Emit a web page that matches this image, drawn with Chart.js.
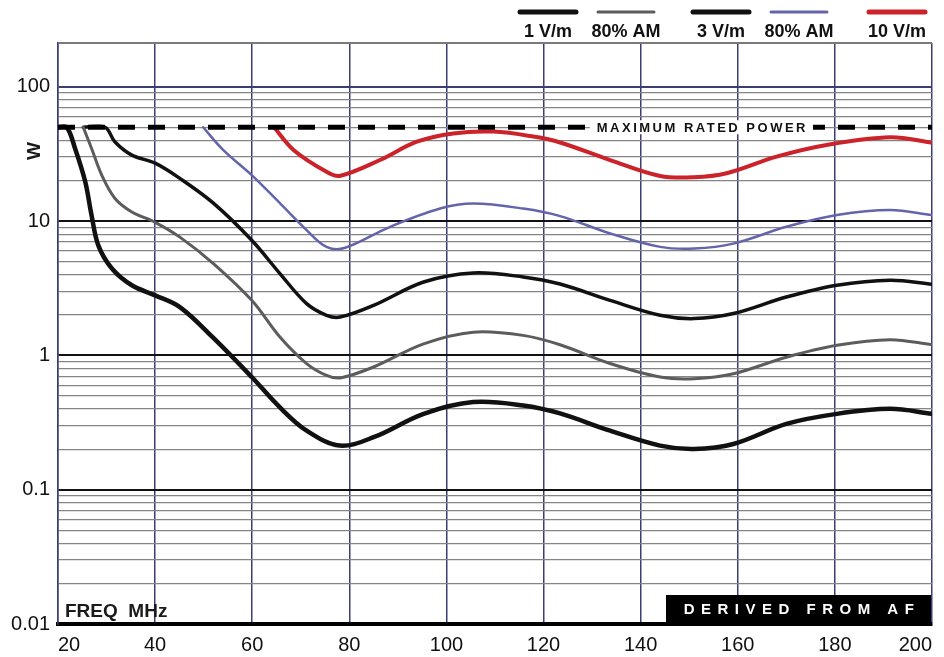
<!DOCTYPE html>
<html>
<head>
<meta charset="utf-8">
<script src="https://cdn.jsdelivr.net/npm/chart.js@4.4.1/dist/chart.umd.min.js"></script>
<style>
  html, body { margin: 0; padding: 0; background: #fff; }
  #wrap { width: 944px; height: 657px; }
</style>
</head>
<body>
<div id="wrap"><canvas id="powerChart" width="944" height="657"></canvas></div>
<script>
// forward power needed for each field level (MHz, W)
const cw1Freq  = [20, 21.8, 23.5, 25.6, 26.9, 28.3, 31.1, 35.2, 40, 45.1, 52, 59.9, 65.7, 71.2, 78, 85, 95.3, 105.5, 115.8, 123.4, 133.7, 144, 151, 159.1, 170, 180.4, 191.4, 200];
const cw1Power = [50, 50, 34.9, 19.7, 11.1, 6.6, 4.44, 3.33, 2.8, 2.29, 1.35, 0.69, 0.41, 0.275, 0.213, 0.246, 0.367, 0.449, 0.424, 0.37, 0.275, 0.213, 0.201, 0.219, 0.309, 0.367, 0.40, 0.367];

const am1Freq  = [25.2, 26.9, 29, 31.7, 35.2, 40, 45.1, 52, 59.9, 65.7, 71.2, 75.3, 78.1, 85, 95.3, 105.5, 115.8, 123.4, 133.7, 144, 151, 159.1, 170, 180.4, 191.4, 200];
const am1Power = [50, 34.9, 22, 14.8, 11.7, 9.8, 7.6, 4.83, 2.57, 1.37, 0.87, 0.71, 0.68, 0.82, 1.22, 1.49, 1.41, 1.2, 0.87, 0.69, 0.67, 0.73, 0.97, 1.19, 1.31, 1.2];

const cw3Freq  = [25.2, 29.7, 31.7, 35.2, 40, 45.1, 52, 59.9, 65.7, 71.2, 75.3, 78.1, 85, 95.3, 105.5, 115.8, 123.4, 133.7, 144, 151, 159.1, 170, 180.4, 191.4, 200];
const cw3Power = [50, 50, 39, 31, 27, 20.8, 13.6, 7.2, 4.07, 2.43, 1.99, 1.93, 2.36, 3.52, 4.11, 3.84, 3.4, 2.57, 1.99, 1.88, 2.05, 2.72, 3.33, 3.63, 3.39];

const am3Freq  = [49.9, 54, 59.9, 65.7, 71.2, 75.3, 79, 88.4, 98.7, 105.5, 115.8, 123.4, 133.7, 144, 151, 159.1, 170, 180.4, 191.4, 200];
const am3Power = [50, 33.9, 22, 13.6, 8.57, 6.43, 6.3, 9.07, 12.4, 13.5, 12.4, 10.9, 8.1, 6.43, 6.25, 6.8, 9.07, 11.1, 12.1, 11.1];

const cw10Freq  = [64.5, 68.5, 75.3, 78, 86.3, 93.9, 101.4, 109.7, 117.9, 123.4, 133.7, 144, 150.9, 157.7, 168, 178.3, 191.4, 200];
const cw10Power = [50, 33.9, 23.3, 21.7, 28.5, 39, 45, 46.4, 42.6, 38.5, 28.5, 21.7, 21.2, 22.7, 30.2, 36.9, 42.1, 38.4];

const ratedFreq  = [20, 200];
const ratedPower = [50, 50];

const seriesLabels = ['1 V/m', '80% AM', '3 V/m', '80% AM', '10 V/m'];
const seriesColours = ['#111111', '#5c5c5c', '#111111', '#6464aa', '#cc2229'];
const seriesWidths = [4.5, 3, 3.5, 2.5, 4];

const xTicks = [20, 40, 60, 80, 100, 120, 140, 160, 180, 200];
const yDecades = [0.01, 0.1, 1, 10, 100];
const yTickLabels = ['0.01', '0.1', '1', '10', '100'];
const yMax = 212;

const FONT = '"Liberation Sans", Arial, sans-serif';
const NAVY = '#3b3d74';

// log grid: 1..9 in each decade, plus the top edge
const yGrid = [];
yDecades.forEach(d => {
    for (let m = 1; m <= 9; m++) {
        const v = +(d * m).toPrecision(3);
        if (v <= 100) yGrid.push(v);
    }
});
yGrid.push(yMax);

function decadeIndex(v) {
    return yDecades.findIndex(d => Math.abs(v - d) / d < 1e-6);
}

function points(xs, ys) {
    return xs.map((x, i) => ({ x: x, y: ys[i] }));
}

const curves = [
    [cw1Freq, cw1Power], [am1Freq, am1Power], [cw3Freq, cw3Power], [am3Freq, am3Power], [cw10Freq, cw10Power]
].map(([xs, ys], i) => ({
    label: seriesLabels[i],
    data: points(xs, ys),
    borderColor: seriesColours[i],
    borderWidth: seriesWidths[i],
    tension: 0.35,
    borderCapStyle: 'round',
    borderJoinStyle: 'round'
}));

// the rated power dashes go first so they are drawn on top
const datasets = [{
    label: 'MAXIMUM RATED POWER',
    data: points(ratedFreq, ratedPower),
    borderColor: '#000',
    borderWidth: 5,
    borderDash: [17, 13],
    tension: 0
}].concat(curves);

// texts and legend that sit outside the normal chart.js bits
const decorations = {
    id: 'decorations',
    afterDatasetsDraw(chart) {
        const ctx = chart.ctx;
        const area = chart.chartArea;
        const xs = chart.scales.x, ys = chart.scales.y;
        ctx.save();

        // label on the rated power line
        const yRated = ys.getPixelForValue(ratedPower[0]);
        const xRated = xs.getPixelForValue(152.5);
        ctx.font = 'bold 13px ' + FONT;
        ctx.letterSpacing = '2.5px';
        const label = datasets[0].label;
        const w = ctx.measureText(label).width;
        ctx.fillStyle = '#fff';
        ctx.fillRect(xRated - w / 2 - 6, yRated - 7, w + 12, 14);
        ctx.fillStyle = '#111';
        ctx.textAlign = 'center';
        ctx.textBaseline = 'middle';
        ctx.fillText(label, xRated + 1, yRated + 1);

        // derived-from box, bottom right
        ctx.fillStyle = '#000';
        ctx.fillRect(666, area.bottom - 29, area.right - 667, 29);
        ctx.fillStyle = '#fff';
        ctx.font = 'bold 15px ' + FONT;
        ctx.letterSpacing = '6.5px';
        ctx.fillText('DERIVED FROM AF', (666 + area.right) / 2 + 3, area.bottom - 14);

        // axis names
        ctx.letterSpacing = '0px';
        ctx.fillStyle = '#1a1a1a';
        ctx.font = 'bold 19px ' + FONT;
        ctx.textAlign = 'left';
        ctx.textBaseline = 'alphabetic';
        ctx.fillText('FREQ  MHz', 65, area.bottom - 7);

        ctx.save();
        ctx.translate(35, 151);
        ctx.rotate(-Math.PI / 2);
        ctx.textAlign = 'center';
        ctx.textBaseline = 'middle';
        ctx.fillText('W', 0, 0);
        ctx.restore();

        // legend strip across the top
        const legendCentres = [548, 626, 721, 799, 897];
        ctx.textAlign = 'center';
        ctx.textBaseline = 'middle';
        ctx.font = 'bold 18px ' + FONT;
        legendCentres.forEach((cx, i) => {
            ctx.strokeStyle = seriesColours[i];
            ctx.lineWidth = i === 1 || i === 3 ? 3 : 5;
            ctx.lineCap = 'round';
            ctx.beginPath();
            ctx.moveTo(cx - 28, 12);
            ctx.lineTo(cx + 28, 12);
            ctx.stroke();
            ctx.fillStyle = '#111';
            ctx.fillText(seriesLabels[i], cx, 32);
        });

        ctx.restore();
    }
};

const chart = new Chart(document.getElementById('powerChart').getContext('2d'), {
    type: 'line',
    data: { datasets: datasets },
    options: {
        responsive: false,
        animation: false,
        devicePixelRatio: 1,
        layout: { padding: { top: 43, right: 12, left: 0, bottom: 0 } },
        elements: { point: { radius: 0 } },
        plugins: {
            legend: { display: false },
            tooltip: { enabled: false }
        },
        scales: {
            x: {
                type: 'linear',
                min: 20,
                max: 200,
                afterFit(scale) {
                    scale.height = 33;
                    scale.paddingLeft = 0;
                    scale.paddingRight = 0;
                },
                afterBuildTicks(scale) { scale.ticks = xTicks.map(v => ({ value: v })); },
                ticks: { padding: 9, align: 'inner', color: '#111', font: { family: FONT, size: 20 }, autoSkip: false, maxRotation: 0 },
                grid: { color: NAVY, lineWidth: 1.5, drawTicks: false },
                border: { color: '#000', width: 4 }
            },
            y: {
                type: 'logarithmic',
                min: 0.01,
                max: yMax,
                afterFit(scale) {
                    scale.width = 58;
                    scale.paddingTop = 0;
                    scale.paddingBottom = 0;
                },
                afterBuildTicks(scale) { scale.ticks = yGrid.map(v => ({ value: v })); },
                ticks: {
                    padding: 8,
                    autoSkip: false,
                    color: '#111',
                    font: { family: FONT, size: 20 },
                    callback: v => {
                        const i = decadeIndex(v);
                        return i >= 0 ? yTickLabels[i] : '';
                    }
                },
                grid: {
                    drawTicks: false,
                    color: c => {
                        const v = c.tick.value;
                        if (v === yMax) return '#7a7a7a';
                        const i = decadeIndex(v);
                        if (i < 0) return '#858585';
                        return v === 100 ? NAVY : '#111';
                    },
                    lineWidth: c => {
                        const v = c.tick.value;
                        if (v === yMax) return 2;
                        return decadeIndex(v) >= 0 ? 2 : 1.2;
                    }
                },
                border: { color: NAVY, width: 1.5 }
            }
        }
    },
    plugins: [decorations]
});
</script>
</body>
</html>
